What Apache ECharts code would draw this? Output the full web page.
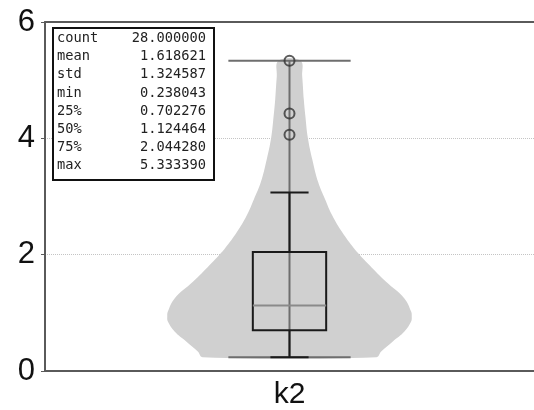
<!DOCTYPE html>
<html>
<head>
<meta charset="utf-8">
<script src="https://cdn.jsdelivr.net/npm/echarts@6/dist/echarts.min.js"></script>
<style>
  html, body { margin: 0; padding: 0; background: #fff; }
  #main { width: 534px; height: 410px; }
</style>
</head>
<body>
<div id="main"></div>
<script>
// data
const categories = ['k2'];

// violin outline: value and relative half-width (1 = widest)
const violinY = [0.238, 0.337, 0.508, 0.679, 0.850, 0.94, 1.021, 1.248, 1.533, 1.818, 2.103, 2.388, 2.672, 2.957, 3.243, 3.641, 4.012, 4.381, 4.667, 5.065, 5.333];
const violinDensity = [0.71, 0.75, 0.845, 0.94, 0.995, 1.0, 0.995, 0.94, 0.79, 0.655, 0.53, 0.43, 0.35, 0.29, 0.235, 0.186, 0.15, 0.13, 0.117, 0.104, 0.09];

// box: [category, lower whisker, q1, median, q3, upper whisker, min, max]
const boxData = [[0, 0.238043, 0.702276, 1.124464, 2.044280, 3.07, 0.238043, 5.333390]];
const outliers = [5.333390, 4.427, 4.063];

const statNames = ['count', 'mean', 'std', 'min', '25%', '50%', '75%', 'max'];
const statValues = ['28.000000', '1.618621', '1.324587', '0.238043', '0.702276', '1.124464', '2.044280', '5.333390'];

const chart = echarts.init(document.getElementById('main'));

function renderViolin(params, api) {
  const band = api.size([1, 0])[0];
  const cx = api.coord([api.value(0), 0])[0];
  const left = [], right = [];
  for (let i = 0; i < violinY.length; i++) {
    const py = api.coord([api.value(0), violinY[i]])[1];
    const hw = violinDensity[i] * 0.25 * band;
    left.push([cx - hw, py]);
    right.unshift([cx + hw, py]);
  }
  return {
    type: 'polygon',
    shape: { points: left.concat(right), smooth: 0.4 },
    style: { fill: '#d0d0d0', stroke: null }
  };
}

function renderBox(params, api) {
  const band = api.size([1, 0])[0];
  const x = api.value(0);
  const cx = api.coord([x, 0])[0];
  const y = i => api.coord([x, api.value(i)])[1];
  const boxHalf = band * 0.075, capHalf = band * 0.039, extHalf = band * 0.125;
  const gray = { stroke: '#6e6e6e', lineWidth: 2 };
  const dark = { stroke: '#1a1a1a', lineWidth: 2 };
  const line = (x1, y1, x2, y2, st) => ({ type: 'line', shape: { x1, y1, x2, y2 }, style: st });
  return {
    type: 'group',
    children: [
      // violin bars
      line(cx, y(6), cx, y(7), gray),
      line(cx - extHalf, y(6), cx + extHalf, y(6), gray),
      line(cx - extHalf, y(7), cx + extHalf, y(7), gray),
      // box
      { type: 'rect', shape: { x: cx - boxHalf, y: y(4), width: boxHalf * 2, height: y(2) - y(4) },
        style: { fill: null, stroke: '#1a1a1a', lineWidth: 2 } },
      line(cx - boxHalf, y(3), cx + boxHalf, y(3), { stroke: '#8a8a8a', lineWidth: 2 }),
      // whiskers
      line(cx, y(4), cx, y(5), dark),
      line(cx, y(2), cx, y(1), dark),
      line(cx - capHalf, y(5), cx + capHalf, y(5), dark),
      line(cx - capHalf, y(1), cx + capHalf, y(1), dark)
    ]
  };
}

const graphics = [{
  type: 'rect', left: 52, top: 27, z: 100,
  shape: { width: 161, height: 152 },
  style: { fill: '#fff', stroke: '#111', lineWidth: 2 }
}];
statNames.forEach((name, i) => {
  graphics.push({
    type: 'text', x: 57, y: 38.5 + i * 18.2, z: 101,
    style: { text: name, fill: '#222', font: '13.7px "DejaVu Sans Mono"', verticalAlign: 'middle' }
  });
  graphics.push({
    type: 'text', x: 206, y: 38.5 + i * 18.2, z: 101,
    style: { text: statValues[i], fill: '#222', font: '13.7px "DejaVu Sans Mono"', align: 'right', verticalAlign: 'middle' }
  });
});

const option = {
  animation: false,
  grid: { left: 45, right: 0, top: 22, bottom: 37 },
  xAxis: [{
    type: 'category',
    data: categories,
    axisLine: { lineStyle: { color: '#5a5a5a', width: 2 } },
    axisTick: { alignWithLabel: true, length: 4, lineStyle: { color: '#5a5a5a' } },
    axisLabel: { fontSize: 30, color: '#111', fontFamily: 'Liberation Sans', margin: 9 }
  }, {
    type: 'category',
    data: categories,
    position: 'top',
    axisLine: { lineStyle: { color: '#5a5a5a', width: 2 } },
    axisTick: { show: false },
    axisLabel: { show: false }
  }],
  yAxis: {
    type: 'value',
    min: 0, max: 6, interval: 2,
    axisLine: { show: true, lineStyle: { color: '#5a5a5a', width: 2 } },
    axisTick: { show: true, length: 4, lineStyle: { color: '#5a5a5a' } },
    axisLabel: { fontSize: 31, color: '#111', fontFamily: 'Liberation Sans', margin: 10 },
    splitLine: { lineStyle: { color: '#c4c4c4', type: 'dotted', width: 1 } }
  },
  graphic: graphics,
  series: [{
    type: 'custom',
    data: [[0]],
    renderItem: renderViolin,
    z: 1
  }, {
    type: 'custom',
    data: boxData,
    renderItem: renderBox,
    z: 3
  }, {
    type: 'scatter',
    data: outliers.map(v => [0, v]),
    symbol: 'circle',
    symbolSize: 10,
    itemStyle: { color: 'rgba(0,0,0,0)', borderColor: '#333', borderWidth: 2 },
    z: 4
  }]
};

chart.setOption(option);
</script>
</body>
</html>
